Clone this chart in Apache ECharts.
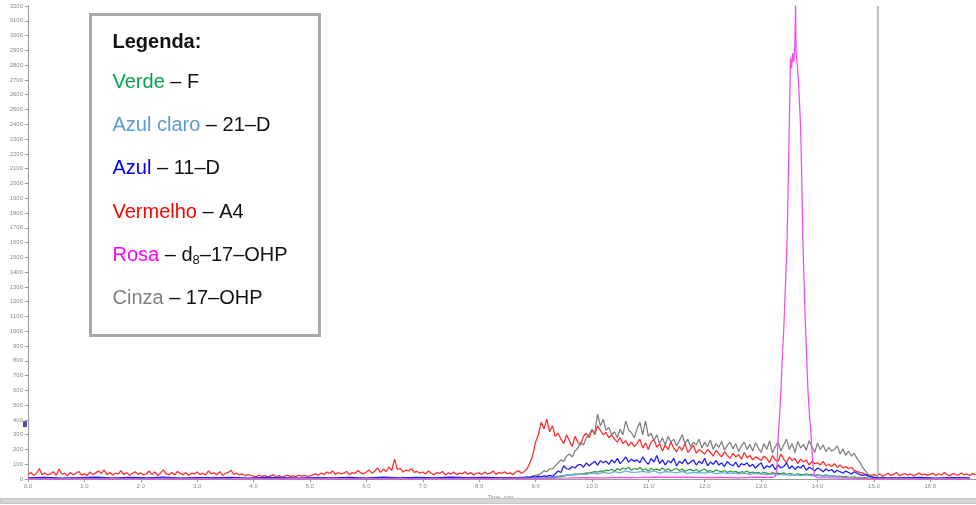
<!DOCTYPE html>
<html>
<head>
<meta charset="utf-8">
<script src="https://cdn.jsdelivr.net/npm/echarts@6/dist/echarts.min.js"></script>
<style>
  html, body { margin: 0; padding: 0; background: #fff; }
  #chart { width: 976px; height: 505px; }
</style>
</head>
<body>
<div id="chart"></div>
<script>
// tick labels
const xTicks = [0, 1, 2, 3, 4, 5, 6, 7, 8, 9, 10, 11, 12, 13, 14, 15, 16]

// red (A4), step 0.05 min from 0.0 to 16.8
const redValues = [
  30, 45, 25, 38, 72, 30, 42, 28, 35, 50, 26, 68, 33, 40, 22, 45, 30, 38, 52, 28,
  35, 25, 48, 30, 42, 55, 38, 62, 30, 45, 28, 40, 35, 58, 30, 44, 26, 38, 50, 32,
  42, 28, 36, 55, 30, 48, 25, 40, 62, 35, 30, 45, 28, 52, 38, 30, 44, 26, 40, 35,
  48, 30, 40, 28, 55, 36, 42, 30, 50, 25, 38, 45, 60, 32, 40, 28, 35, 22, 30, 26,
  20, 15, 28, 18, 25, 12, 22, 30, 16, 24, 14, 20, 26, 18, 22, 15, 28, 20, 25, 18,
  22, 28, 35, 25, 42, 30, 48, 38, 55, 32, 45, 36, 40, 52, 30, 44, 38, 58, 42, 35,
  48, 62, 40, 55, 75, 45, 68, 50, 82, 58, 135, 65, 72, 48, 60, 55, 70, 45, 52, 40,
  48, 35, 55, 40, 30, 45, 38, 52, 28, 42, 35, 48, 30, 40, 36, 50, 32, 45, 28, 38,
  42, 30, 48, 35, 40, 55, 32, 45, 38, 50, 36, 42, 30, 48, 56, 40, 52, 70, 110, 160,
  250, 300, 385, 340, 405, 320, 360, 290, 310, 270, 240, 300, 260, 220, 290, 250, 230, 290, 310, 280,
  335, 300, 360, 330, 300, 315, 280, 300, 270, 250, 280, 240, 260, 225, 250, 220, 240, 270, 210, 245,
  200, 250, 270, 215, 240, 190, 230, 200, 250, 210, 185, 220, 195, 240, 180, 205, 230, 175, 200, 185,
  170, 200, 180, 155, 195, 170, 150, 185, 160, 140, 175, 150, 165, 135, 180, 145, 160, 130, 150, 140,
  125, 155, 140, 110, 160, 130, 120, 170, 135, 110, 150, 125, 140, 105, 135, 115, 130, 95, 120, 105,
  110, 95, 120, 90, 100, 85, 105, 80, 95, 75, 85, 70, 80, 60, 50, 45, 40, 32, 28, 25,
  30, 22, 35, 20, 28, 40, 25, 32, 45, 24, 30, 38, 26, 35, 22, 30, 42, 28, 34, 25,
  32, 40, 25, 36, 28, 45, 30, 22, 38, 30, 26, 42, 28, 35, 24, 38, 30
]

// gray (17-OHP)
const grayBase = [5, 8, 4, 6, 9, 5, 7, 4, 8, 6, 5, 9, 4, 7, 5, 8, 3, 6, 4, 7, 5, 8, 6, 9, 5, 7, 6, 8, 5, 7] // 0.0-8.7, step 0.3
const grayMain = [ // 8.8-15.2, step 0.05
  8, 10, 15, 20, 25, 30, 40, 55, 50, 70,
  67, 90, 110, 130, 120, 155, 170, 150, 190, 210,
  250, 230, 280, 300, 337, 310, 440, 360, 405, 330,
  350, 300, 320, 280, 337, 300, 394, 330, 315, 280,
  340, 385, 300, 394, 290, 310, 260, 300, 240, 280,
  230, 290, 250, 270, 225, 260, 300, 240, 270, 215,
  250, 230, 270, 210, 250, 220, 265, 200, 240, 215,
  255, 195, 230, 250, 205, 240, 185, 225, 250, 200,
  235, 190, 245, 210, 180, 240, 200, 260, 175, 220,
  250, 190, 230, 270, 200, 240, 180, 255, 210, 235,
  195, 260, 220, 180, 245, 200, 230, 185, 215, 190,
  200, 225, 170, 205, 160, 190, 155, 175, 140, 115,
  80, 55, 30, 18, 12, 10, 8, 12, 8
]
const grayTail = [6, 9, 5, 8, 6] // 15.5-16.7, step 0.3

// blue (11-D)
const blueBase = [8, 12, 6, 10, 14, 7, 11, 9, 13, 6, 10, 8, 12, 7, 11, 9, 6, 10, 8, 12, 7, 13, 9, 11, 8, 14, 10, 12, 9, 11]
const blueMain = [
  12, 15, 10, 18, 14, 20, 16, 22, 18, 25,
  20, 35, 55, 45, 90, 70, 67, 85, 75, 95,
  100, 80, 110, 90, 105, 120, 95, 125, 110, 122,
  100, 130, 110, 140, 105, 125, 150, 115, 135, 120,
  130, 110, 150, 120, 100, 140, 115, 160, 105, 130,
  95, 125, 110, 140, 90, 120, 105, 135, 100, 115,
  130, 95, 120, 105, 140, 90, 115, 100, 125, 95,
  110, 85, 120, 100, 90, 115, 80, 105, 95, 110,
  85, 100, 75, 95, 110, 70, 90, 80, 100, 65,
  95, 75, 85, 110, 70, 90, 65, 85, 75, 95,
  60, 80, 70, 55, 75, 65, 50, 70, 55, 65,
  45, 60, 50, 40, 55, 45, 35, 50, 40, 30,
  25, 30, 20, 15, 12, 10, 8, 10, 8
]
const blueTail = [8, 12, 6, 10, 9]

// green (F)
const greenBase = [3, 2, 4, 3, 5, 2, 4, 3, 2, 5, 3, 4, 2, 3, 5, 4, 3, 4] // 0.0-8.5, step 0.5
const greenMain = [
  3, 5, 4, 6, 5, 8, 6, 9, 8, 10,
  12, 10, 15, 18, 20, 25, 30, 28, 35, 32,
  38, 35, 42, 40, 45, 50, 48, 55, 52, 60,
  58, 65, 55, 70, 62, 75, 68, 80, 60, 72,
  65, 78, 60, 70, 55, 72, 62, 68, 58, 75,
  60, 70, 55, 65, 72, 58, 68, 52, 62, 66,
  55, 65, 50, 60, 68, 52, 58, 48, 62, 55,
  50, 58, 45, 55, 48, 52, 42, 50, 46, 55,
  42, 48, 40, 45, 38, 46, 40, 35, 44, 38,
  40, 35, 42, 30, 38, 34, 28, 36, 32, 30,
  35, 28, 32, 25, 30, 26, 22, 28, 24, 20,
  22, 18, 20, 15, 18, 14, 12, 15, 10, 12,
  8, 10, 6, 5, 4, 5, 3, 4, 3
]
const greenTail = [3, 2, 4, 3] // 15.5-16.7, step 0.4

// light blue (21-D)
const lightBase = [2, 4, 3, 5, 2, 3, 4, 2, 5, 3, 2, 4, 3, 5, 2, 4, 3, 4]
const lightMain = [ // 9.0-15.0, step 0.1
  5, 8, 12, 15, 20, 25, 30, 28, 35, 32,
  40, 35, 45, 38, 50, 42, 55, 45, 48, 52,
  45, 55, 40, 50, 48, 42, 52, 38, 46, 44,
  40, 48, 36, 44, 38, 42, 35, 40, 32, 38,
  34, 30, 36, 28, 32, 26, 30, 24, 28, 22,
  25, 20, 22, 18, 15, 12, 10, 8, 6, 5, 4
]
const lightTail = [3, 2, 4, 3]

// pink (d8-17-OHP)
const pinkBase = [ // 0.0-13.2, step 0.3
  3, 4, 2, 5, 3, 4, 2, 3, 5, 3,
  4, 2, 3, 5, 3, 2, 4, 3, 5, 2,
  4, 3, 5, 2, 4, 3, 5, 4, 3, 6,
  5, 7, 8, 10, 9, 12, 10, 14, 11, 13,
  10, 12, 9, 14, 11
]
const pinkPeakT = [13.25, 13.28, 13.30, 13.33, 13.35, 13.38, 13.40, 13.43, 13.46, 13.48, 13.50, 13.52, 13.54, 13.56, 13.58, 13.60, 13.61, 13.62, 13.64, 13.66, 13.68, 13.70, 13.72, 13.74, 13.76, 13.78, 13.80, 13.83, 13.86, 13.88, 13.90, 13.92, 13.95]
const pinkPeakV = [20, 60, 270, 450, 600, 850, 1000, 1300, 1620, 2000, 2400, 2850, 2780, 2880, 2820, 2950, 3210, 2900, 2800, 2700, 2550, 2380, 2050, 1620, 1350, 1100, 900, 600, 420, 330, 200, 90, 20]
const pinkTail = [10, 8, 6, 4, 3, 4, 2, 3, 4, 3] // 14.0-16.7, step 0.3

const markerValue = 372
const cutLine = 15.06

// 把等间隔的数值转成 [时间, 值]
const seg = (t0, dt, vals) => vals.map((v, i) => [+(t0 + i * dt).toFixed(3), v])

const redData = seg(0, 0.05, redValues)
const grayData = [...seg(0, 0.3, grayBase), ...seg(8.8, 0.05, grayMain), ...seg(15.5, 0.3, grayTail)]
const blueData = [...seg(0, 0.3, blueBase), ...seg(8.8, 0.05, blueMain), ...seg(15.5, 0.3, blueTail)]
const greenData = [...seg(0, 0.5, greenBase), ...seg(8.8, 0.05, greenMain), ...seg(15.5, 0.4, greenTail)]
const lightData = [...seg(0, 0.5, lightBase), ...seg(9.0, 0.1, lightMain), ...seg(15.5, 0.4, lightTail)]
const pinkData = [...seg(0, 0.3, pinkBase), ...pinkPeakT.map((t, i) => [t, pinkPeakV[i]]), ...seg(14.0, 0.3, pinkTail)]

const xMin = -0.053
const xMax = 16.81
const axisGray = '#9a9a9a'
const labelGray = '#8a8a8a'

const line = (name, color, data, z) => ({
  name,
  type: 'line',
  data,
  symbol: 'none',
  sampling: false,
  z,
  lineStyle: { color, width: 1.25 }
})

const chart = echarts.init(document.getElementById('chart'))

// graphic 里的富文本用 fill 设置颜色
const legendFont = 'Liberation Sans, Arial, sans-serif'
const tok = (fill) => ({ fill, fontSize: 20, fontFamily: legendFont, lineHeight: 24 })
const rich = {
  k: tok('#111'),
  g: tok('#00a550'),
  lb: tok('#5b9bd5'),
  b: tok('#0000ff'),
  r: tok('#ff0000'),
  p: tok('#ff00ff'),
  c: tok('#808080'),
  s: { fill: '#111', fontSize: 13, fontFamily: legendFont, lineHeight: 24, verticalAlign: 'bottom' }
}
const legendLines = [
  '{g|Verde}{k| – F}',
  '{lb|Azul claro}{k| – 21–D}',
  '{b|Azul}{k| – 11–D}',
  '{r|Vermelho}{k| – A4}',
  '{p|Rosa}{k| – d}{s|8}{k|–17–OHP}',
  '{c|Cinza}{k| – 17–OHP}'
]

const option = {
  animation: false,
  backgroundColor: '#fff',
  grid: { left: 25, right: 0, top: 6, bottom: 25 },
  xAxis: {
    type: 'value',
    min: xMin,
    max: xMax,
    name: 'Time, min',
    nameLocation: 'middle',
    nameGap: 13,
    nameTextStyle: { fontSize: 6, color: labelGray },
    axisLine: { show: true, lineStyle: { color: axisGray, width: 1 } },
    axisTick: { show: true, length: 3, customValues: xTicks, lineStyle: { color: axisGray } },
    axisLabel: {
      customValues: xTicks,
      fontSize: 6,
      color: labelGray,
      margin: 4,
      formatter: (v) => v.toFixed(1)
    },
    splitLine: { show: false }
  },
  yAxis: {
    type: 'value',
    min: 0,
    max: 3200,
    interval: 100,
    axisLine: { show: true, lineStyle: { color: axisGray, width: 1 } },
    axisTick: { show: true, length: 3, lineStyle: { color: axisGray } },
    axisLabel: { fontSize: 6, color: labelGray, margin: 2, formatter: (v) => String(v) },
    splitLine: { show: false }
  },
  series: [
    {
      ...line('A4', '#ff2a2a', redData, 2),
      markLine: {
        silent: true,
        symbol: 'none',
        label: { show: false },
        lineStyle: { color: '#a8a8a8', width: 1.5, type: 'solid' },
        data: [{ xAxis: cutLine }]
      }
    },
    line('17-OHP', '#7f7f7f', grayData, 3),
    line('F', '#2e9a3e', greenData, 4),
    line('21-D', '#6fa8dc', lightData, 4),
    line('11-D', '#1a1aff', blueData, 5),
    line('d8-17-OHP', '#f04cf0', pinkData, 6),
    {
      type: 'scatter',
      data: [[xMin, markerValue]],
      symbol: 'rect',
      symbolSize: [4, 6],
      clip: false,
      z: 7,
      itemStyle: { color: '#23238f' }
    }
  ],
  graphic: [
    {
      type: 'rect',
      left: 0,
      top: 498,
      shape: { width: 976, height: 5 },
      style: { fill: '#d6d6d6', stroke: '#c4c4c4', lineWidth: 1 },
      z: 1
    },
    {
      type: 'group',
      left: 89,
      top: 13,
      z: 100,
      children: [
        {
          type: 'rect',
          shape: { x: 0, y: 0, width: 229, height: 321 },
          style: { fill: '#fff', stroke: '#a8a8a8', lineWidth: 3 }
        },
        {
          type: 'text',
          x: 22,
          y: 28,
          style: {
            text: 'Legenda:',
            fontSize: 20,
            fontWeight: 'bold',
            fontFamily: legendFont,
            fill: '#111',
            verticalAlign: 'middle'
          }
        },
        ...legendLines.map((txt, i) => ({
          type: 'text',
          x: 22,
          y: 68 + i * 43.2,
          style: { text: txt, rich, verticalAlign: 'middle' }
        }))
      ]
    }
  ]
}
chart.setOption(option)
</script>
</body>
</html>
